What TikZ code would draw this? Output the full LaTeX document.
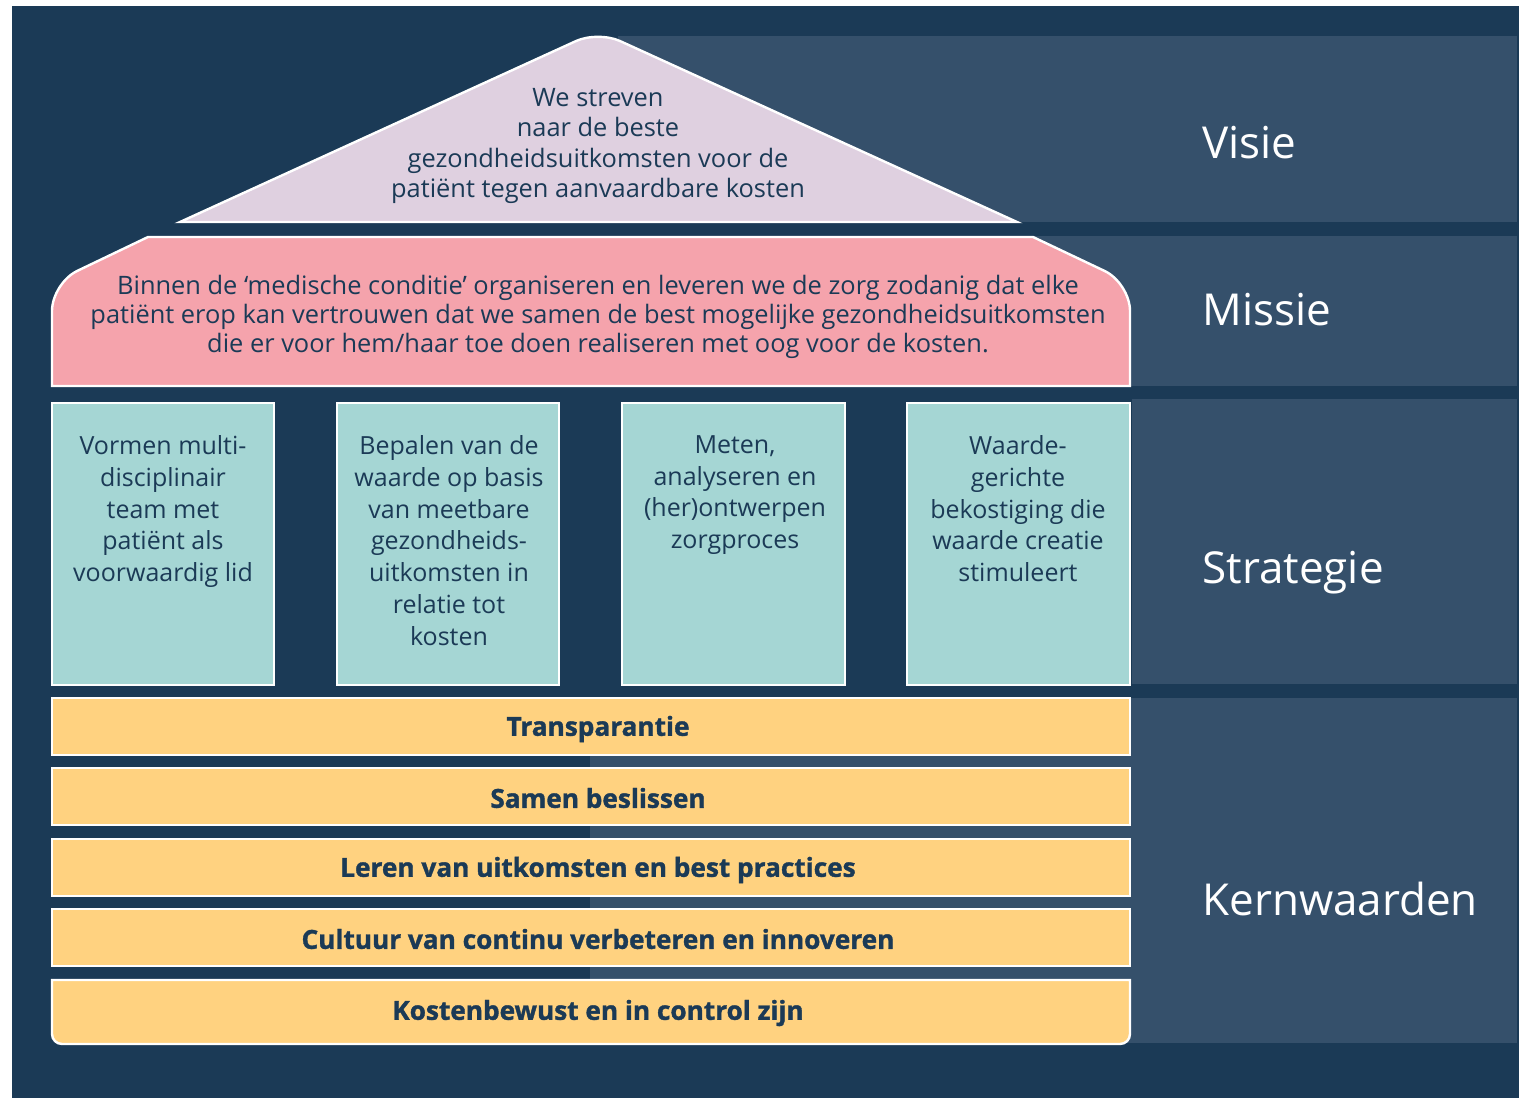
\documentclass[tikz,border=0pt]{standalone}
\usepackage{fontspec}
\setmainfont{Open Sans}
\newfontfamily\zwaar{Open Sans Bold}[FakeBold=1.3]
\usepackage{xcolor}
\usepackage{tikz}
\usetikzlibrary{positioning}

\definecolor{donker}{HTML}{1B3A56}
\definecolor{licht}{HTML}{35506B}
\definecolor{dak}{HTML}{DFD0E0}
\definecolor{roze}{HTML}{F5A3AC}
\definecolor{mint}{HTML}{A5D6D4}
\definecolor{geel}{HTML}{FFD280}

\begin{document}
\begin{tikzpicture}[x=0.5pt,y=-0.5pt,
	vlak/.style={fill=#1,draw=white,line width=1.2pt},
	tekst/.style={text=donker,align=center,inner sep=0pt,font=\fontsize{12.5}{15}\selectfont},
	strat/.style={tekst,anchor=north,font=\fontsize{12.5}{15.9}\selectfont},
	balk/.style={vlak=geel,minimum width=539pt,minimum height=28.5pt,inner sep=0pt},
	balktekst/.style={text=donker,inner sep=0pt,font=\fontsize{13.1}{15}\zwaar},
	laag/.style={text=white,anchor=base west,inner sep=0pt,font=\fontsize{22}{26}\selectfont}]
		\useasboundingbox (0,0) rectangle (1519,1098);
		\fill[donker] (12,6) rectangle (1519,1098);
		% lichte banen achter het huis
		\fill[licht] (618,36) rectangle (1517,222);
		\fill[licht] (598,236) rectangle (1517,386);
		\fill[licht] (1132,399) rectangle (1517,684);
		\fill[licht] (590,698) rectangle (1517,1043);
		% dak
		\draw[vlak=dak] (180,222) [rounded corners=12pt] -- (598,31) [sharp corners] -- (1017,222) -- cycle;
		\node[tekst,font=\fontsize{12.7}{15.2}\selectfont] (visie) at (598,146) {We streven\\naar de beste\\gezondheidsuitkomsten voor de\\patiënt tegen aanvaardbare kosten};
		% missie
		\draw[vlak=roze] (148,237) -- (1033,237) [rounded corners=14pt] -- (1130,283) [sharp corners] -- (1130,386) -- (52,386) [rounded corners=14pt] -- (52,283) [sharp corners] -- (148,237) -- cycle;
		\node[tekst,font=\fontsize{12.7}{14.5}\selectfont] (missie) at (598,317) {Binnen de ‘medische conditie’ organiseren en leveren we de zorg zodanig dat elke\\patiënt erop kan vertrouwen dat we samen de best mogelijke gezondheidsuitkomsten\\die er voor hem/haar toe doen realiseren met oog voor de kosten.};
		% strategie
		\draw[vlak=mint] (52,403) rectangle (274,685);
		\draw[vlak=mint] (337,403) rectangle (559,685);
		\draw[vlak=mint] (622,403) rectangle (845,685);
		\draw[vlak=mint] (907,403) rectangle (1130,685);
		\node[strat] (s1) at (163,435) {Vormen multi-\\disciplinair\\team met\\patiënt als\\voorwaardig lid};
		\node[strat] (s2) at (449,435) {Bepalen van de\\waarde op basis\\van meetbare\\gezondheids-\\uitkomsten in\\relatie tot\\kosten};
		\node[strat] (s3) at (735,435) {Meten,\\analyseren en\\(her)ontwerpen\\zorgproces};
		\node[strat] (s4) at (1018,435) {Waarde-\\gerichte\\bekostiging die\\waarde creatie\\stimuleert};
		% kernwaarden
		\node[balk] (k1) at (591,726.5) {};
		\node[balk] (k2) at (591,796.5) {};
		\node[balk] (k3) at (591,867.5) {};
		\node[balk] (k4) at (591,937.5) {};
		\draw[vlak=geel] (1130,980) -- (52,980) [rounded corners=5pt] -- (52,1044) -- (1130,1044) [sharp corners] -- (1130,980) -- cycle;
		\node[balktekst] (t1) at (598,729) {Transparantie};
		\node[balktekst] (t2) at (598,798) {Samen beslissen};
		\node[balktekst] (t3) at (598,870) {Leren van uitkomsten en best practices};
		\node[balktekst] (t4) at (598,939) {Cultuur van continu verbeteren en innoveren};
		\node[balktekst] (t5) at (598,1013) {Kostenbewust en in control zijn};
		% lagen
		\node[laag] (lvisie) at (1202,158) {Visie};
		\node[laag] (lmissie) at (1202,325) {Missie};
		\node[laag] (lstrategie) at (1202,583) {Strategie};
		\node[laag] (lkern) at (1202,915) {Kernwaarden};
	\end{tikzpicture}
\end{document}
